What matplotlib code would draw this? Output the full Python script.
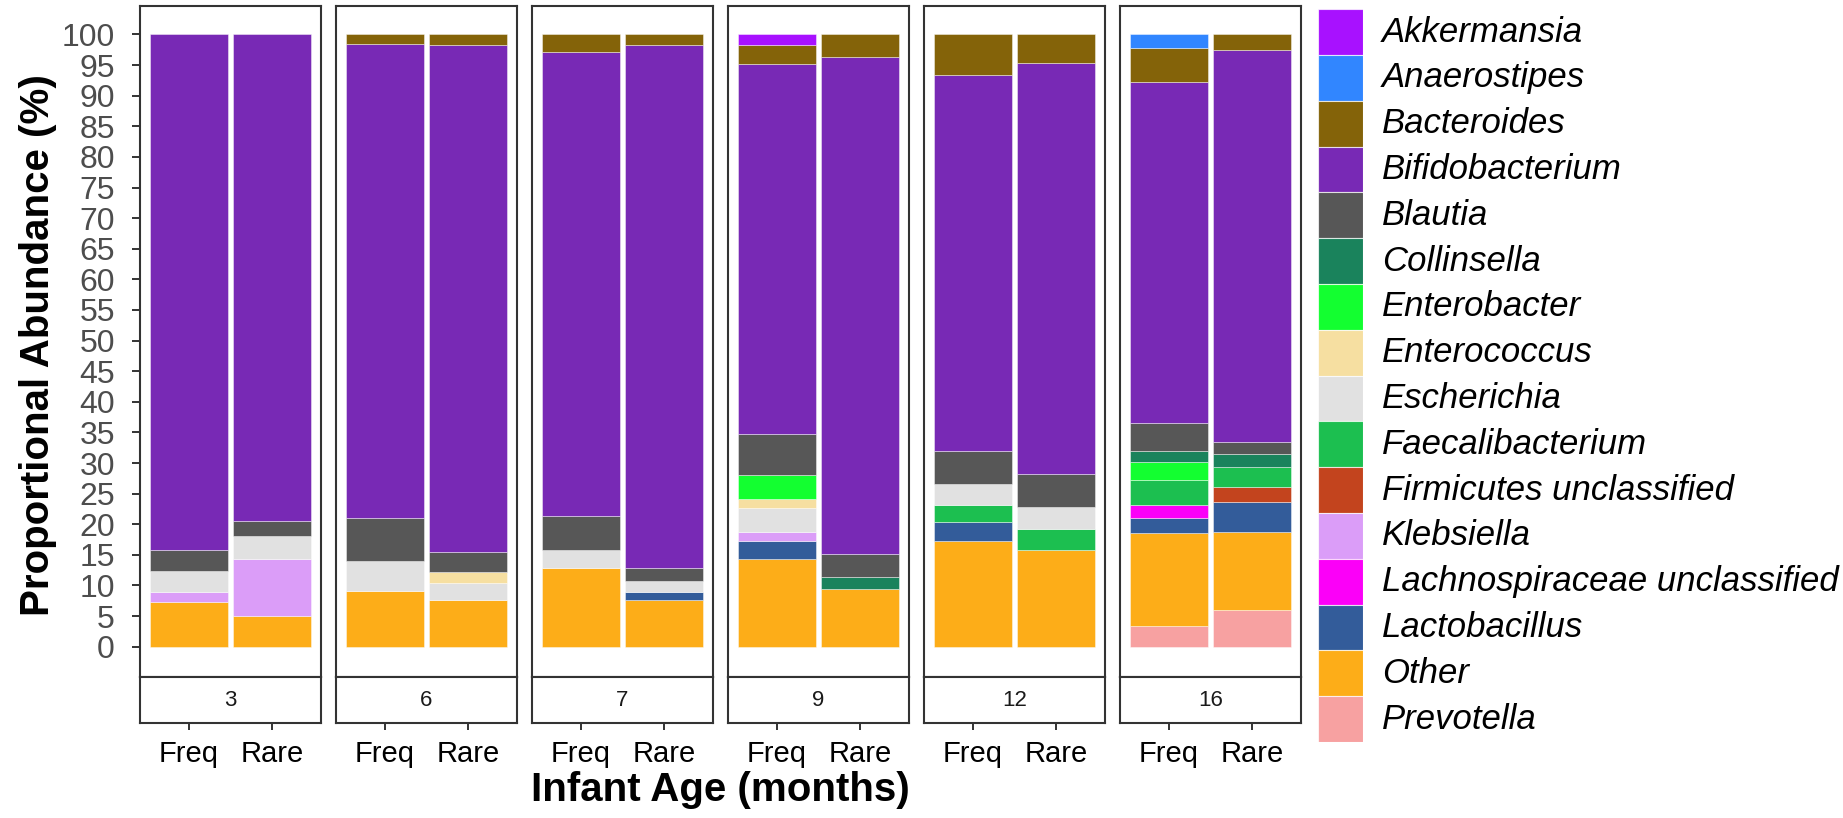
import numpy as np
import matplotlib.pyplot as plt

plt.rcParams['font.family'] = ['Liberation Sans', 'DejaVu Sans']

ages = ['3', '6', '7', '9', '12', '16']
groups = ['Freq', 'Rare']

# abundance (%) per taxon, order: 3F,3R,6F,6R,7F,7R,9F,9R,12F,12R,16F,16R
akkermansia      = [0, 0, 0, 0, 0, 0, 1.7, 0, 0, 0, 0, 0]
anaerostipes     = [0, 0, 0, 0, 0, 0, 0, 0, 0, 0, 2.2, 0]
bacteroides      = [0, 0, 1.5, 1.8, 2.8, 1.7, 3.2, 3.7, 6.7, 4.6, 5.6, 2.5]
bifidobacterium  = [84.2, 79.4, 77.4, 82.8, 75.9, 85.4, 60.3, 81.1, 61.3, 67.2, 55.6, 64.0]
blautia          = [3.4, 2.5, 7.1, 3.2, 5.5, 2.2, 6.8, 3.8, 5.4, 5.4, 4.7, 2.0]
collinsella      = [0, 0, 0, 0, 0, 0, 0, 2.0, 0, 0, 1.8, 2.1]
enterobacter     = [0, 0, 0, 0, 0, 0, 3.8, 0, 0, 0, 2.9, 0]
enterococcus     = [0, 0, 0, 1.8, 0, 0, 1.6, 0, 0, 0, 0, 0]
escherichia      = [3.45, 3.8, 4.9, 2.8, 2.9, 1.7, 3.8, 0, 3.4, 3.6, 0, 0]
faecalibacterium = [0, 0, 0, 0, 0, 0, 0, 0, 2.8, 3.4, 4.0, 3.3]
firmicutes_uncl  = [0, 0, 0, 0, 0, 0, 0, 0, 0, 0, 0, 2.4]
klebsiella       = [1.7, 9.35, 0, 0, 0, 0, 1.6, 0, 0, 0, 0, 0]
lachnospiraceae  = [0, 0, 0, 0, 0, 0, 0, 0, 0, 0, 2.2, 0]
lactobacillus    = [0, 0, 0, 0, 0, 1.4, 2.8, 0, 3.2, 0, 2.4, 5.0]
other            = [7.25, 4.95, 9.1, 7.6, 12.9, 7.6, 14.4, 9.4, 17.2, 15.8, 15.2, 12.7]
prevotella       = [0, 0, 0, 0, 0, 0, 0, 0, 0, 0, 3.4, 6.0]

taxa = ['Akkermansia', 'Anaerostipes', 'Bacteroides', 'Bifidobacterium', 'Blautia',
        'Collinsella', 'Enterobacter', 'Enterococcus', 'Escherichia', 'Faecalibacterium',
        'Firmicutes unclassified', 'Klebsiella', 'Lachnospiraceae unclassified',
        'Lactobacillus', 'Other', 'Prevotella']
abund = dict(zip(taxa, [akkermansia, anaerostipes, bacteroides, bifidobacterium, blautia,
                        collinsella, enterobacter, enterococcus, escherichia, faecalibacterium,
                        firmicutes_uncl, klebsiella, lachnospiraceae, lactobacillus, other,
                        prevotella]))
colors = ['#A811FF', '#3186FF', '#846309', '#7829B5', '#575757', '#1A835C', '#13FF30',
          '#F6DFA1', '#E1E1E1', '#1CBF50', '#C3441E', '#DB9DF8', '#FB00F8', '#335C9A',
          '#FDAD18', '#F7A1A1']
col = dict(zip(taxa, colors))

W, H = 1843, 818
fig = plt.figure(figsize=(W / 100, H / 100), dpi=100)

def fx(px):
    return px / W

def fy(py):
    return 1 - py / H

panel_top, panel_bot, strip_bot = 5.7, 676.7, 723.3
panel_w = 181
xlim = (0.41, 2.59)
dark = '#333333'

for i, age in enumerate(ages):
    left = 140 + 196 * i
    ax = fig.add_axes([fx(left), fy(panel_bot), panel_w / W, (panel_bot - panel_top) / H])
    bottom = np.zeros(2)
    for name in taxa[::-1]:  # ggplot stacks reverse alphabetical from the bottom
        vals = np.array(abund[name][2 * i:2 * i + 2], dtype=float)
        keep = vals > 0
        if keep.any():
            ax.bar(np.array([1, 2])[keep], vals[keep], bottom=bottom[keep], width=0.935,
                   color=col[name], edgecolor=(1, 1, 1, 0.5), linewidth=0.6)
        bottom += vals
    ax.set_xlim(*xlim)
    ax.set_ylim(-4.9, 104.7)
    ax.set_xticks([])
    if i == 0:
        ax.set_yticks(np.arange(0, 101, 5))
        ax.tick_params(axis='y', labelsize=23, labelcolor='#4D4D4D', length=6,
                       width=1.4, color=dark, pad=12)
    else:
        ax.set_yticks([])
    for s in ax.spines.values():
        s.set_color(dark)
        s.set_linewidth(1.5)

    strip = fig.add_axes([fx(left), fy(strip_bot), panel_w / W, (strip_bot - panel_bot) / H])
    strip.set_xlim(*xlim)
    strip.set_yticks([])
    strip.set_xticks([1, 2])
    strip.set_xticklabels(groups)
    strip.tick_params(axis='x', labelsize=21, labelcolor='black', length=5,
                      width=1.4, color=dark, pad=7)
    strip.text(0.5, 0.5, age, transform=strip.transAxes, ha='center', va='center',
               fontsize=16, color='#1A1A1A')
    for s in strip.spines.values():
        s.set_color(dark)
        s.set_linewidth(1.5)

fig.text(fx(38), fy(345), 'Proportional Abundance (%)', rotation=90, ha='center',
         va='center', fontsize=29, fontweight='bold')
fig.text(fx(720), fy(790), 'Infant Age (months)', ha='center', va='center',
         fontsize=29, fontweight='bold')

# legend
lg = fig.add_axes([fx(1318.3), fy(742), 45 / W, (742 - 9.3) / H])
ypos = np.arange(len(taxa)) + 0.5
lg.barh(ypos, np.ones(len(taxa)), height=1, color=colors, edgecolor=(1, 1, 1, 0.7),
        linewidth=0.8)
lg.set_ylim(len(taxa), 0)
lg.set_xlim(0, 1)
lg.axis('off')
for y, name in zip(ypos, taxa):
    lg.text(1.41, y, name, transform=lg.get_yaxis_transform(), ha='left', va='center',
            fontsize=25, fontstyle='italic')

fig.savefig('out.png', dpi=100)
